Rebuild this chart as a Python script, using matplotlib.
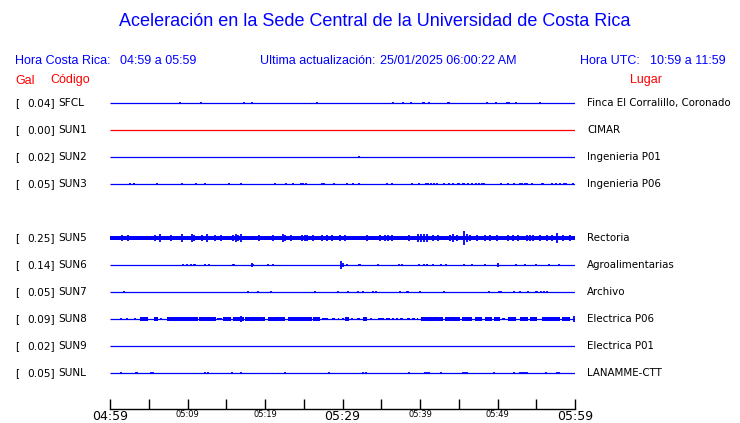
import matplotlib
matplotlib.use('Agg')
import matplotlib.pyplot as plt

W, H = 740, 423
BLUE = '#0000ff'
RED = '#ff0000'

# stations (row 4 is an empty slot in the original page)
rows = [0, 1, 2, 3, 5, 6, 7, 8, 9, 10]
codes = ['SFCL', 'SUN1', 'SUN2', 'SUN3', 'SUN5', 'SUN6', 'SUN7', 'SUN8', 'SUN9', 'SUNL']
peaks = [0.04, 0.00, 0.02, 0.05, 0.25, 0.14, 0.05, 0.09, 0.02, 0.05]
places = ['Finca El Corralillo, Coronado', 'CIMAR', 'Ingenieria P01', 'Ingenieria P06',
          'Rectoria', 'Agroalimentarias', 'Archivo', 'Electrica P06', 'Electrica P01',
          'LANAMME-CTT']
trace_colors = [BLUE, RED, BLUE, BLUE, BLUE, BLUE, BLUE, BLUE, BLUE, BLUE]

# time window, minutes after 04:59
t_start, t_end = 0, 60
tick_minutes = list(range(0, 61, 5))
label_minutes = [0, 10, 20, 30, 40, 50, 60]
label_text = ['04:59', '05:09', '05:19', '05:29', '05:39', '05:49', '05:59']

# spikes: (minute, amplitude in Gal)
spikes = {
    'SFCL': [(9.03, .04), (11.78, .03), (17.33, .02), (18.36, .02), (26.75, .03),
             (36.56, .02), (37.85, .02), (38.88, .03), (40.43, .04), (40.55, .04),
             (41.12, .04), (43.55, .04), (43.7, .04), (48.68, .02), (49.85, .02),
             (51.19, .03), (51.52, .03), (52.39, .04), (55.52, .03)],
    'SUN1': [],
    'SUN2': [(32.17, .02)],
    'SUN3': [(2.62, .03), (3.05, .04), (3.15, .04), (6.02, .03), (9.29, .04), (11.10, .04),
             (12.30, .03), (15.40, .03), (16.86, .04), (21.29, .04), (22.71, .04),
             (23.57, .03), (24.7, .04), (24.85, .04), (25.29, .04), (27.31, .03),
             (27.66, .03), (28.95, .03), (30.62, .03), (31.40, .02), (32.17, .03),
             (35.70, .03), (36.43, .03), (39.01, .02), (39.91, .03), (40.73, .03),
             (40.99, .04), (41.38, .02), (41.81, .04), (42.24, .03), (43.05, .03),
             (43.74, .03), (44.26, .04), (44.85, .04), (45.05, .04), (45.50, .04),
             (45.65, .04), (46.24, .04), (46.67, .03), (47.18, .03), (47.61, .04),
             (47.96, .03), (48.30, .03), (50.49, .03), (51.31, .03), (52.13, .04),
             (52.90, .04), (53.20, .04), (53.50, .04), (53.85, .03), (54.41, .03),
             (55.75, .04), (55.9, .04), (56.99, .04), (57.50, .03), (58.02, .03),
             (58.62, .02), (58.88, .03), (59.70, .03)],
    'SUN5': [(1.51, .11), (2.28, .11), (3.87, .09), (4.1, .09), (4.30, .09), (5.81, .12),
             (6.45, .14), (7.83, .1), (9.24, .15), (10.54, .13), (10.88, .11),
             (11.83, .1), (12.56, .13), (13.55, .1), (14.28, .11), (15.91, .12),
             (16.2, .13), (16.56, .12), (16.90, .16), (19.27, .1), (20.99, .11),
             (22.28, .13), (22.58, .11), (23.32, .1), (24.77, .11), (25.1, .12),
             (25.38, .11), (26.23, .1), (27.31, .1), (27.96, .11), (28.68, .12),
             (29.68, .1), (30.32, .12), (33.20, .1), (34.84, .1), (35.48, .12),
             (35.9, .12), (36.35, .11), (38.58, .1), (39.78, .14), (40.1, .16),
             (40.5, .15), (40.86, .13), (41.72, .11), (42.37, .1), (43.87, .12),
             (44.3, .14), (44.73, .12), (45.64, .25), (46.02, .13), (46.45, .12),
             (47.31, .11), (48.39, .1), (49.03, .1), (49.89, .1), (51.39, .12),
             (52.0, .11), (52.69, .12), (53.77, .11), (54.2, .12), (54.62, .11),
             (55.48, .1), (56.34, .11), (56.99, .11), (57.63, .17), (58.49, .11),
             (59.35, .12)],
    'SUN6': [(9.46, .03), (9.89, .02), (10.41, .03), (10.8, .04), (10.95, .04),
             (12.21, .03), (12.73, .03), (15.85, .03), (15.98, .03), (18.32, .07),
             (18.45, .04), (20.39, .03), (21.03, .03), (29.85, .14), (30.02, .06),
             (30.58, .04), (32.1, .04), (32.25, .04), (34.62, .03), (37.33, .03),
             (37.68, .03), (39.83, .03), (40.47, .03), (40.85, .04), (40.95, .04),
             (41.63, .03), (42.75, .04), (43.40, .02), (45.63, .03), (46.75, .03),
             (48.34, .03), (50.02, .08), (52.43, .02), (53.55, .03), (54.97, .02),
             (56.69, .02), (57.98, .03)],
    'SUN7': [(1.81, .03), (17.81, .03), (19.10, .03), (20.77, .03), (26.49, .02),
             (29.38, .03), (30.75, .02), (31.96, .03), (32.69, .03), (33.89, .02),
             (34.28, .04), (37.46, .03), (38.28, .04), (38.45, .04), (40.04, .03),
             (43.10, .03), (48.95, .02), (50.15, .03), (50.49, .03), (52.09, .03),
             (52.95, .03), (53.98, .03), (54.95, .04), (55.15, .04), (55.61, .04),
             (56.04, .03), (56.39, .03)],
    'SUN8': [(1.42, .02), (2.15, .02), (3.23, .02), (6.58, .04), (31.18, .04),
             (33.68, .03), (16.9, .1), (59.9, .1)],
    'SUN9': [],
    'SUNL': [(1.38, .03), (3.35, .04), (3.5, .04), (5.33, .03), (5.59, .03), (12.30, .03),
             (12.65, .03), (15.78, .02), (16.86, .04), (22.54, .02), (28.30, .03),
             (32.60, .03), (33.03, .03), (38.54, .04), (40.69, .03), (40.95, .03),
             (41.21, .02), (42.75, .03), (45.6, .04), (45.75, .04), (46.06, .03),
             (49.50, .04), (52.09, .03), (52.90, .03), (53.15, .04), (53.35, .04),
             (53.55, .04), (53.85, .02), (56.21, .03), (57.63, .03), (57.89, .03)],
}

# stretches of continuous shaking: (from minute, to minute, amplitude in Gal)
bursts = {
    'SUN5': [(0.0, 60.0, .08)],
    'SUN8': [(3.87, 4.86, .065), (5.68, 6.15, .065), (7.35, 11.31, .065), (11.53, 13.68, .065),
             (13.85, 14.41, .05), (14.62, 15.61, .065), (15.91, 16.47, .065),
             (16.56, 17.33, .085), (17.42, 20.00, .065), (20.43, 22.58, .065),
             (22.92, 26.02, .065), (26.24, 27.10, .065), (27.40, 28.09, .05),
             (28.60, 29.03, .05), (29.38, 29.55, .05), (29.89, 30.15, .05),
             (30.32, 30.84, .065), (31.83, 32.26, .05), (32.69, 33.20, .065),
             (34.62, 35.40, .05), (35.57, 36.13, .05), (36.43, 36.69, .05),
             (36.90, 37.20, .05), (37.42, 37.85, .05), (38.28, 38.71, .05),
             (38.92, 39.35, .05), (39.57, 39.78, .05), (40.13, 43.01, .065),
             (43.22, 45.16, .065), (45.38, 46.67, .065), (47.10, 47.96, .065),
             (48.39, 49.25, .065), (49.59, 50.32, .065), (50.54, 50.97, .05),
             (51.31, 52.34, .065), (52.90, 53.98, .065), (54.19, 55.10, .065),
             (55.70, 58.06, .065), (58.36, 59.35, .065)],
}

ROW_PER_GAL = 1.0
MIN_HALF = 0.045

fig = plt.figure(figsize=(W / 100, H / 100), dpi=100)


def px(x, y):
    return x / W, 1 - y / H


# plotting area: traces from x=110 to 575 px, time axis line at y=409 px
ax = fig.add_axes([110 / W, 1 - 409 / H, 465 / W, (409 - 90) / H])
ax.set_xlim(t_start, t_end)
ax.set_ylim((409 - 103) / 27, (90 - 103) / 27)

for r, code, col in zip(rows, codes, trace_colors):
    ax.plot([t_start, t_end], [r, r], color=col, lw=0.9, solid_capstyle='butt')
    for t0, t1, a in bursts.get(code, []):
        h = max(a * ROW_PER_GAL, MIN_HALF)
        ax.fill_between([t0, t1], r - h, r + h, color=col, lw=0)
    for t, a in spikes[code]:
        h = max(a * ROW_PER_GAL, MIN_HALF)
        ax.vlines(t, r - h, r + h, color=col, lw=1.3)

for s in ['top', 'left', 'right']:
    ax.spines[s].set_visible(False)
ax.spines['bottom'].set_linewidth(1)
ax.set_yticks([])
ax.set_xticks(tick_minutes)
ax.set_xticklabels(['' for _ in tick_minutes])
ax.tick_params(axis='x', direction='in', length=7, width=1, pad=0, color='k')
# labels as a second set of ticks without marks
ax2 = ax.secondary_xaxis('bottom')
ax2.set_xticks(label_minutes)
ax2.set_xticklabels(label_text)
ax2.tick_params(axis='x', length=0, pad=1)
ax2.spines['bottom'].set_visible(False)
for m, lbl in zip(label_minutes, ax2.get_xticklabels()):
    lbl.set_fontsize(9 if m % 30 == 0 else 6)
    lbl.set_family('DejaVu Sans')

# left and right labels
for r, code, pk, place in zip(rows, codes, peaks, places):
    y = 103 + 27 * r
    fig.text(*px(15, y), '[', fontsize=7.6, va='center', ha='left')
    fig.text(*px(55, y), f'{pk:.2f}]', fontsize=7.6, va='center', ha='right')
    fig.text(*px(58.5, y), code, fontsize=7.6, va='center', ha='left')
    fig.text(*px(587, y), place, fontsize=7.4, va='center', ha='left')

hfont = dict(family='Liberation Sans', color=BLUE, va='center', ha='left', fontsize=9)
fig.text(*px(375, 22), 'Aceleración en la Sede Central de la Universidad de Costa Rica',
         family='Liberation Sans', color=BLUE, va='center', ha='center', fontsize=13)
fig.text(*px(15, 60.5), 'Hora Costa Rica:', **hfont)
fig.text(*px(120.5, 60.5), '04:59 a 05:59', **hfont)
fig.text(*px(260, 60.5), 'Ultima actualización:', **hfont)
fig.text(*px(380, 60.5), '25/01/2025 06:00:22 AM', **hfont)
fig.text(*px(580.5, 60.5), 'Hora UTC:', **hfont)
fig.text(*px(650.5, 60.5), '10:59 a 11:59', **hfont)
rfont = dict(hfont, color=RED)
fig.text(*px(15, 80.5), 'Gal', **rfont)
fig.text(*px(50, 80.5), 'Código', **rfont)
fig.text(*px(630, 80.5), 'Lugar', **rfont)

fig.savefig('out.png', dpi=100)
